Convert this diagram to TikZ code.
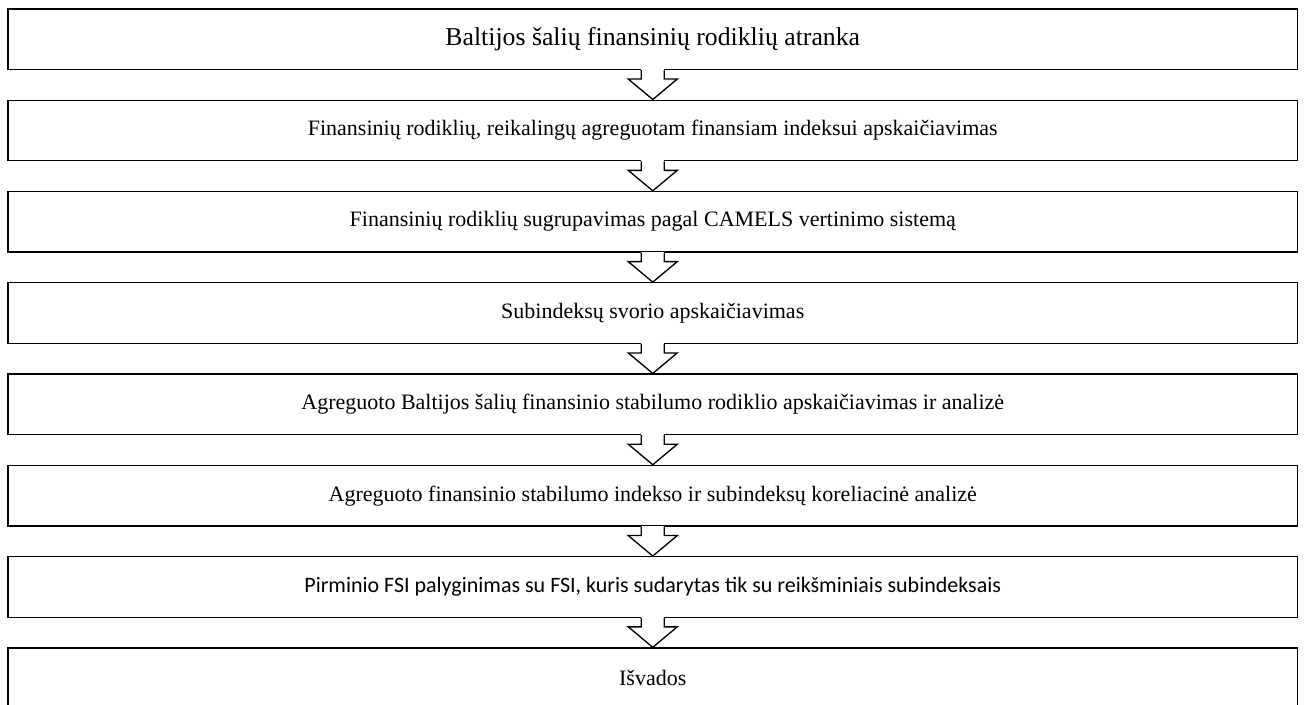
\documentclass[tikz,border=0pt]{standalone}
\usepackage{fontspec}
\setmainfont{Liberation Serif}
\newfontfamily\calibrifont{Carlito}
\usetikzlibrary{calc}
\tikzset{
  stepbox/.style={draw=black, line width=1pt, minimum width=1289.5*0.75pt, minimum height=60.5*0.75pt, inner sep=0pt, anchor=north, font=\fontsize{16.5pt}{19pt}\selectfont},
  blockarrow/.style={draw=black, line width=1pt, fill=white, line join=miter},
}
\begin{document}
\begin{tikzpicture}[x=0.75pt, y=-0.75pt]
\useasboundingbox (0,0) rectangle (1305,704);
\clip (0,0) rectangle (1305,704);
\foreach \i/\t in {1/{\fontsize{19.3pt}{22pt}\selectfont Baltijos šalių finansinių rodiklių atranka},
  2/{Finansinių rodiklių, reikalingų agreguotam finansiam indeksui apskaičiavimas},
  3/{Finansinių rodiklių sugrupavimas pagal CAMELS vertinimo sistemą},
  4/{Subindeksų svorio apskaičiavimas},
  5/{Agreguoto Baltijos šalių finansinio stabilumo rodiklio apskaičiavimas ir analizė},
  6/{Agreguoto finansinio stabilumo indekso ir subindeksų koreliacinė analizė},
  7/{\calibrifont Pirminio FSI palyginimas su FSI, kuris sudarytas tik su reikšminiais subindeksais},
  8/{Išvados}}{
  \node[stepbox] (b\i) at (652.75, {8.2+91.3*(\i-1)}) {\t};
}
\foreach \i [evaluate=\i as \j using int(\i+1)] in {1,...,7}{
  \fill[white] ($(b\i.south)+(-11.5,-1)$) rectangle ($(b\i.south)+(11.5,3)$);
  \draw[blockarrow] ($(b\i.south)+(-11.5,0)$) -- ($(b\i.south)+(-11.5,9)$) -- ($(b\i.south)+(-24.5,9)$) -- (b\j.north) -- ($(b\i.south)+(24.5,9)$) -- ($(b\i.south)+(11.5,9)$) -- ($(b\i.south)+(11.5,0)$);
}
\end{tikzpicture}
\end{document}
